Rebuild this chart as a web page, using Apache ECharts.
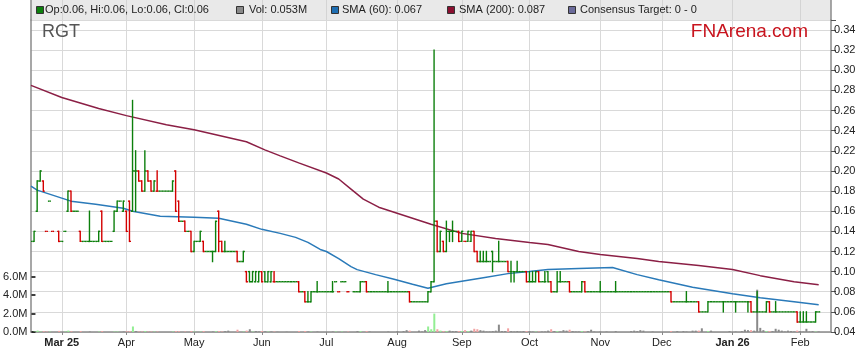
<!DOCTYPE html>
<html><head><meta charset="utf-8">
<script src="https://cdn.jsdelivr.net/npm/echarts@6/dist/echarts.min.js"></script>
<style>html,body{margin:0;padding:0;background:#fff}#c{width:859px;height:363px}</style>
</head><body><div id="c"></div>
<script>
const TICKER = 'RGT';
const SITE = 'FNArena.com';
const START_DATE = '2025-02-17';
const N_DAYS = 261;
const tickLabels = ['Mar 25','Apr','May','Jun','Jul','Aug','Sep','Oct','Nov','Dec','Jan 26','Feb'];
const consensusLow = 0, consensusHigh = 0;

const open = [
.13,.13,.16,.19,.19,.14,.17,.14,null,.14,
.13,.14,.16,.18,.16,.16,.14,.13,.13,.13,
.13,.13,.13,.16,.13,.13,.13,.14,.16,.17,
.16,.16,.17,.16,.20,.20,.19,.18,.20,.19,
.18,.18,.18,.18,.18,.18,.18,.20,.17,.15,
.15,.14,.14,.12,.13,.13,.13,.12,.12,.12,
.12,.16,.13,.12,.12,.12,.12,.12,.11,.11,
.10,.10,.09,.09,.09,.10,.10,.09,.09,.09,
.09,.09,.09,.09,.09,.09,.09,.09,.08,.08,
.07,.07,.08,.08,.08,.08,.08,.08,.08,.09,
.08,.09,.09,.08,null,.08,.08,.08,.09,.09,
.08,.08,.08,.08,.08,.08,.08,.08,.08,.08,
.08,.08,.08,.08,.07,.07,.07,.07,.07,.07,
.08,.09,.15,.12,.13,.12,.14,.14,.14,.14,
.13,.13,.13,.13,.14,.12,.11,.11,.11,.11,
.12,.11,.11,.11,.11,.11,.10,.10,.10,.10,
.10,.10,.09,.09,.09,.10,.09,.09,.10,.09,
.08,.08,.09,.09,.09,.09,.08,.08,.08,.08,
.09,.08,.08,.08,.08,.08,.08,.08,.08,.08,
.08,.08,.08,.08,.08,.08,.08,.08,.08,.08,
.08,.08,.08,.08,.08,.08,.08,.08,.08,.07,
.07,.07,.07,.07,.07,.07,.07,.07,.06,.06,
.06,.07,.07,.07,.07,.07,.07,.07,.07,.07,
.07,.07,.07,.07,.07,.06,.06,.06,.06,.06,
.07,.06,.06,.06,.06,.06,.06,.06,.06,.06,
.05,.05,.05,.05,.05,.05,.06];
const high = [
.13,.14,.19,.20,.19,.14,.17,.14,null,.14,
.13,.14,.18,.18,.16,.16,.14,.13,.13,.16,
.13,.13,.14,.16,.13,.13,.13,.16,.17,.17,
.17,.16,.17,.27,.22,.20,.19,.22,.20,.19,
.19,.20,.18,.18,.18,.18,.19,.20,.17,.15,
.15,.14,.14,.13,.13,.14,.13,.12,.12,.12,
.15,.16,.13,.13,.12,.12,.12,.12,.11,.12,
.10,.10,.10,.10,.10,.10,.10,.10,.10,.10,
.09,.09,.09,.09,.09,.09,.09,.09,.08,.08,
.08,.08,.08,.09,.08,.08,.08,.08,.09,.09,
.08,.09,.09,.08,null,.08,.08,.09,.09,.09,
.08,.08,.08,.08,.08,.08,.09,.08,.08,.08,
.08,.08,.08,.08,.07,.07,.07,.07,.07,.08,
.09,.32,.15,.14,.13,.15,.14,.15,.14,.14,
.14,.13,.14,.14,.14,.12,.12,.12,.12,.11,
.12,.11,.13,.11,.11,.11,.11,.10,.11,.10,
.10,.10,.10,.10,.10,.10,.09,.10,.10,.09,
.08,.10,.10,.09,.09,.09,.08,.08,.08,.09,
.09,.08,.08,.08,.08,.09,.08,.08,.08,.08,
.09,.08,.08,.08,.08,.08,.08,.08,.08,.08,
.08,.08,.08,.08,.08,.08,.08,.08,.08,.07,
.07,.07,.07,.08,.07,.07,.07,.07,.06,.06,
.07,.07,.07,.07,.07,.07,.07,.07,.07,.07,
.07,.07,.07,.07,.07,.06,.08,.06,.06,.07,
.07,.06,.07,.06,.06,.06,.06,.06,.06,.06,
.06,.06,.06,.05,.05,.06,.06];
const low = [
.13,.13,.16,.19,.18,.14,.17,.14,null,.13,
.13,.14,.16,.16,.16,.16,.13,.13,.13,.13,
.13,.13,.13,.13,.13,.13,.13,.14,.16,.17,
.16,.14,.13,.16,.16,.19,.18,.18,.19,.18,
.18,.18,.18,.18,.18,.18,.18,.16,.15,.15,
.14,.14,.12,.12,.13,.13,.12,.12,.12,.11,
.12,.12,.12,.12,.12,.12,.12,.11,.11,.11,
.09,.09,.09,.09,.09,.09,.09,.09,.09,.09,
.09,.09,.09,.09,.09,.09,.09,.08,.08,.07,
.07,.07,.08,.08,.08,.08,.08,.08,.08,.09,
.08,.09,.09,.08,null,.08,.08,.08,.09,.08,
.08,.08,.08,.08,.08,.08,.08,.08,.08,.08,
.08,.08,.08,.07,.07,.07,.07,.07,.07,.07,
.08,.09,.12,.12,.12,.12,.13,.13,.14,.13,
.13,.13,.13,.13,.12,.11,.11,.11,.11,.11,
.10,.11,.11,.11,.11,.10,.09,.09,.10,.10,
.10,.09,.09,.09,.09,.09,.09,.09,.09,.08,
.08,.08,.09,.09,.09,.08,.08,.08,.08,.08,
.08,.08,.08,.08,.08,.08,.08,.08,.08,.08,
.08,.08,.08,.08,.08,.08,.08,.08,.08,.08,
.08,.08,.08,.08,.08,.08,.08,.08,.07,.07,
.07,.07,.07,.07,.07,.07,.07,.06,.06,.06,
.06,.07,.07,.07,.07,.06,.07,.07,.07,.06,
.07,.07,.07,.06,.06,.06,.06,.06,.06,.06,
.06,.06,.06,.06,.06,.06,.06,.06,.06,.05,
.05,.05,.05,.05,.05,.05,.06];
const close = [
.13,.14,.19,.20,.18,.14,.17,.14,null,.13,
.13,.14,.18,.16,.16,.16,.13,.13,.13,.13,
.13,.13,.14,.13,.13,.13,.13,.16,.17,.17,
.17,.14,.13,.20,.20,.19,.18,.20,.19,.18,
.19,.18,.18,.18,.18,.18,.19,.16,.15,.15,
.14,.14,.12,.13,.13,.14,.12,.12,.12,.12,
.15,.13,.12,.12,.12,.12,.12,.11,.11,.12,
.09,.09,.10,.10,.10,.09,.09,.10,.10,.09,
.09,.09,.09,.09,.09,.09,.09,.08,.08,.07,
.07,.08,.08,.08,.08,.08,.08,.08,.08,.09,
.08,.09,.09,.08,null,.08,.08,.09,.09,.08,
.08,.08,.08,.08,.08,.08,.08,.08,.08,.08,
.08,.08,.08,.07,.07,.07,.07,.07,.07,.08,
.09,.15,.12,.14,.12,.14,.14,.14,.14,.13,
.14,.13,.14,.14,.12,.11,.11,.11,.11,.11,
.11,.11,.11,.11,.11,.10,.10,.10,.10,.10,
.10,.09,.09,.09,.10,.09,.09,.09,.09,.08,
.08,.09,.09,.09,.09,.08,.08,.08,.08,.09,
.08,.08,.08,.08,.08,.08,.08,.08,.08,.08,
.08,.08,.08,.08,.08,.08,.08,.08,.08,.08,
.08,.08,.08,.08,.08,.08,.08,.08,.07,.07,
.07,.07,.07,.07,.07,.07,.07,.06,.06,.06,
.07,.07,.07,.07,.07,.07,.07,.07,.07,.07,
.07,.07,.07,.07,.06,.06,.06,.06,.06,.07,
.06,.06,.06,.06,.06,.06,.06,.06,.06,.05,
.05,.05,.05,.05,.05,.06,.06];
// volume in millions of shares
const volume = [
0,.05,.15,.05,.08,.05,.05,0,0,.12,
0,.05,.15,.08,0,0,.1,0,0,.05,
0,0,.05,.1,0,0,0,.05,.05,0,
.05,.08,.1,.6,.1,.05,.05,.1,.05,.05,
.05,.05,0,0,0,0,.05,.1,.08,0,
.05,0,.1,.05,0,.05,.1,0,0,.05,
.08,.1,.05,.1,.15,0,0,.25,0,.05,
.15,.3,.05,.1,.05,.1,.08,.05,.05,.05,
.03,0,0,.03,0,0,0,.1,0,.1,
.05,.05,0,.05,0,0,0,0,.05,.05,
0,.05,0,.05,0,0,.1,.1,0,.1,
.05,0,0,0,0,0,.05,0,0,.1,
0,.1,.2,.15,0,0,.15,.05,.2,.6,
.3,2.0,.3,.15,.1,.1,.15,.1,.1,.1,
.1,.2,.1,.15,.35,.3,.2,.15,.05,.05,
.1,.15,.8,.1,.1,.4,.1,.05,.1,.05,
.1,.1,.1,.05,.05,.05,.05,.05,.15,.3,
.1,.1,.05,.2,.15,.25,.1,.05,.05,.1,
.05,.1,.25,.05,0,.05,0,.05,0,0,
.1,0,0,0,0,.1,.15,.1,.2,.15,
0,0,.05,0,0,0,0,0,.1,0,
.1,0,.1,.05,0,.15,.15,.15,.4,0,
.1,.15,0,0,0,0,0,.1,0,.05,
0,.1,.25,.2,.2,.15,4.6,.45,.2,.1,
.1,.1,.35,.25,.15,.05,.15,.1,.05,.15,
.1,.05,.35,.05,.1,.05,.053];

// moving averages read at day positions
const sma60Days = [0,2,10,13,21,30,33,42,53,61,70,75,81,86,90,94,96,100,104,106,112,118,124,129,135,141,147,155,162,168,178,189,197,204,215,228,237,248,256];
const sma60 =     [.185,.181,.173,.170,.167,.163,.160,.155,.154,.153,.147,.142,.138,.134,.129,.122,.120,.113,.105,.102,.097,.0925,.0875,.0835,.088,.091,.094,.098,.100,.102,.103,.104,.097,.092,.0845,.078,.074,.070,.067];
const sma200Days = [0,10,22,31,44,53,70,76,81,87,96,100,104,108,113,119,130,140,151,162,168,178,185,197,204,217,228,237,248,256];
const sma200 =     [.285,.273,.262,.255,.246,.241,.229,.221,.215,.208,.198,.192,.182,.172,.164,.158,.147,.138,.133,.129,.127,.120,.117,.113,.110,.106,.102,.096,.090,.087];

const UP = '#0c7f0c', DOWN = '#d40000';
const VUP = '#93ee93', VDOWN = '#f2a2a2', VFLAT = '#8a8a8a';
const C60 = '#2a7ab9', C200 = '#8b1f45';
const FONT = '"Liberation Sans", Arial, sans-serif';

// weekday categories
const dates = [];
(function(){ const d = new Date(START_DATE + 'T00:00:00Z');
  while (dates.length < N_DAYS) { const w = d.getUTCDay(); if (w !== 0 && w !== 6) dates.push(d.toISOString().slice(0,10)); d.setUTCDate(d.getUTCDate()+1); } })();
const labelAt = {};
(function(){ let k = 0; for (let i = 1; i < dates.length; i++) if (dates[i].slice(5,7) !== dates[i-1].slice(5,7)) { if (k < tickLabels.length) labelAt[i] = tickLabels[k]; k++; } })();
const isMonth = (idx) => labelAt[idx] !== undefined;

const ohlcData = []; const volData = [];
(function(){ let prev = null;
  for (let i = 0; i < close.length; i++) {
    let vc = VFLAT;
    if (close[i] != null) {
      const dir = (prev == null || close[i] >= prev) ? 1 : -1;
      if (prev != null) vc = close[i] > prev ? VUP : (close[i] < prev ? VDOWN : VFLAT);
      ohlcData.push([i, open[i], high[i], low[i], close[i], dir]);
      prev = close[i];
    }
    volData.push({ value: volume[i], itemStyle: { color: vc } });
  } })();

function renderOHLC(params, api) {
  const i = api.value(0);
  const pO = api.coord([i, api.value(1)]), pH = api.coord([i, api.value(2)]);
  const pL = api.coord([i, api.value(3)]), pC = api.coord([i, api.value(4)]);
  const half = api.size([1, 0])[0] / 2;
  const x = pO[0];
  const st = { stroke: api.value(5) > 0 ? UP : DOWN, lineWidth: 1.4, fill: null };
  const ch = [
    { type: 'line', shape: { x1: x - half, y1: pO[1], x2: x, y2: pO[1] }, style: st },
    { type: 'line', shape: { x1: x, y1: pC[1], x2: x + half, y2: pC[1] }, style: st }
  ];
  if (pL[1] - pH[1] > 0.5) ch.push({ type: 'line', shape: { x1: x, y1: pH[1] - 0.7, x2: x, y2: pL[1] + 0.7 }, style: st });
  return { type: 'group', children: ch };
}

const lastI = close.length - 1;
const legendItems = [
  { color: UP, text: 'Op:' + open[lastI].toFixed(2) + ', Hi:' + high[lastI].toFixed(2) + ', Lo:' + low[lastI].toFixed(2) + ', Cl:' + close[lastI].toFixed(2), sx: 36, tx: 45 },
  { color: '#8a8a8a', text: 'Vol: ' + volume[lastI].toFixed(3) + 'M', sx: 236, tx: 249 },
  { color: '#1f6fb3', text: 'SMA (60): ' + sma60[sma60.length-1].toFixed(3), sx: 331, tx: 342 },
  { color: '#8a0f30', text: 'SMA (200): ' + sma200[sma200.length-1].toFixed(3), sx: 447, tx: 459 },
  { color: '#6a6a9a', text: 'Consensus Target: ' + consensusLow + ' - ' + consensusHigh, sx: 568, tx: 580 }
];
const graphics = [];
legendItems.forEach(it => {
  graphics.push({ type: 'rect', shape: { x: it.sx + 0.5, y: 6.5, width: 7, height: 7 }, style: { fill: it.color, stroke: '#333', lineWidth: 1 }, z: 100 });
  graphics.push({ type: 'text', x: it.tx, y: 10, style: { text: it.text, font: '11px ' + FONT, fill: '#222', textVerticalAlign: 'middle' }, z: 100 });
});
graphics.push({ type: 'text', x: 42, y: 32, style: { text: TICKER, font: '18px ' + FONT, fill: '#555', textVerticalAlign: 'middle' }, z: 100 });
graphics.push({ type: 'text', x: 808, y: 32, style: { text: SITE, font: '19px ' + FONT, fill: '#c8141e', textAlign: 'right', textVerticalAlign: 'middle' }, z: 100 });

const GRID = '#d9d9d9', AX = '#8a8a8a';
const chart = echarts.init(document.getElementById('c'), null, { renderer: 'canvas' });
chart.setOption({
  animation: false,
  backgroundColor: '#fff',
  grid: [
    { left: 31, right: 28, top: 20, bottom: 31 },
    { left: 31, right: 28, top: 0, height: 20, show: true, backgroundColor: '#e9e9e9', borderWidth: 0 },
    { left: 31, right: 28, top: 276.8, bottom: 31 }
  ],
  xAxis: [
    { type: 'category', gridIndex: 0, data: dates, boundaryGap: false,
      axisLine: { lineStyle: { color: AX, width: 1.5 } },
      axisTick: { show: true, interval: (i) => isMonth(i), length: 3, lineStyle: { color: AX } },
      axisLabel: { interval: (i) => isMonth(i), margin: 5, color: '#222', fontSize: 11, fontFamily: FONT,
        formatter: (v, i) => { const t = labelAt[i] || ''; return /\d/.test(t) ? '{b|' + t + '}' : t; },
        rich: { b: { fontWeight: 'bold', fontSize: 11, fontFamily: FONT, color: '#222' } } },
      splitLine: { show: true, interval: (i) => isMonth(i), lineStyle: { color: GRID, width: 1 } } },
    { type: 'category', gridIndex: 1, data: dates, boundaryGap: false,
      axisLine: { show: false }, axisTick: { show: false }, axisLabel: { show: false },
      splitLine: { show: true, interval: (i) => isMonth(i), lineStyle: { color: '#d4d4d4', width: 1 } } },
    { type: 'category', gridIndex: 2, data: dates, boundaryGap: false, show: false }
  ],
  yAxis: [
    { type: 'value', gridIndex: 0, position: 'right', min: 0.04, max: 0.35, interval: 0.02,
      axisLine: { show: true, lineStyle: { color: AX, width: 1.5 } },
      axisTick: { show: true, length: 5, lineStyle: { color: '#555' } },
      axisLabel: { margin: 3, color: '#222', fontSize: 11, fontFamily: FONT,
        formatter: (v) => Math.abs(v - 0.35) < 1e-6 ? '' : v.toFixed(2) },
      splitLine: { show: true, lineStyle: { color: GRID, width: 1 } } },
    { type: 'value', gridIndex: 0, position: 'left', min: 0, max: 1,
      axisLine: { show: true, lineStyle: { color: AX, width: 1.5 } },
      axisTick: { show: false }, axisLabel: { show: false }, splitLine: { show: false } },
    { type: 'value', gridIndex: 1, position: 'left', min: 0, max: 1,
      axisLine: { show: true, lineStyle: { color: AX, width: 1.5 } },
      axisTick: { show: false }, axisLabel: { show: false }, splitLine: { show: false } },
    { type: 'value', gridIndex: 2, position: 'left', min: 0, max: 6, interval: 2,
      axisLine: { show: false },
      axisTick: { show: true, inside: true, length: 4, lineStyle: { color: '#000', width: 1.5 } },
      axisLabel: { margin: 4, color: '#222', fontSize: 11, fontFamily: FONT, formatter: (v) => v.toFixed(1) + 'M' },
      splitLine: { show: false } },
    { type: 'value', gridIndex: 1, position: 'right', min: 0, max: 1,
      axisLine: { show: true, lineStyle: { color: AX, width: 1.5 } },
      axisTick: { show: false }, axisLabel: { show: false }, splitLine: { show: false } }
  ],
  series: [
    { name: 'Volume', type: 'bar', xAxisIndex: 2, yAxisIndex: 3, data: volData, barWidth: 2, z: 1 },
    { name: 'SMA (200)', type: 'line', xAxisIndex: 0, yAxisIndex: 0, showSymbol: false, z: 2,
      data: sma200Days.map((d, k) => [d, sma200[k]]), lineStyle: { color: C200, width: 1.5 } },
    { name: 'SMA (60)', type: 'line', xAxisIndex: 0, yAxisIndex: 0, showSymbol: false, z: 2,
      data: sma60Days.map((d, k) => [d, sma60[k]]), lineStyle: { color: C60, width: 1.5 } },
    { name: 'Price', type: 'custom', xAxisIndex: 0, yAxisIndex: 0, z: 3, clip: true,
      renderItem: renderOHLC, encode: { x: 0, y: [1, 2, 3, 4] }, data: ohlcData }
  ],
  graphic: graphics
});
</script></body></html>
